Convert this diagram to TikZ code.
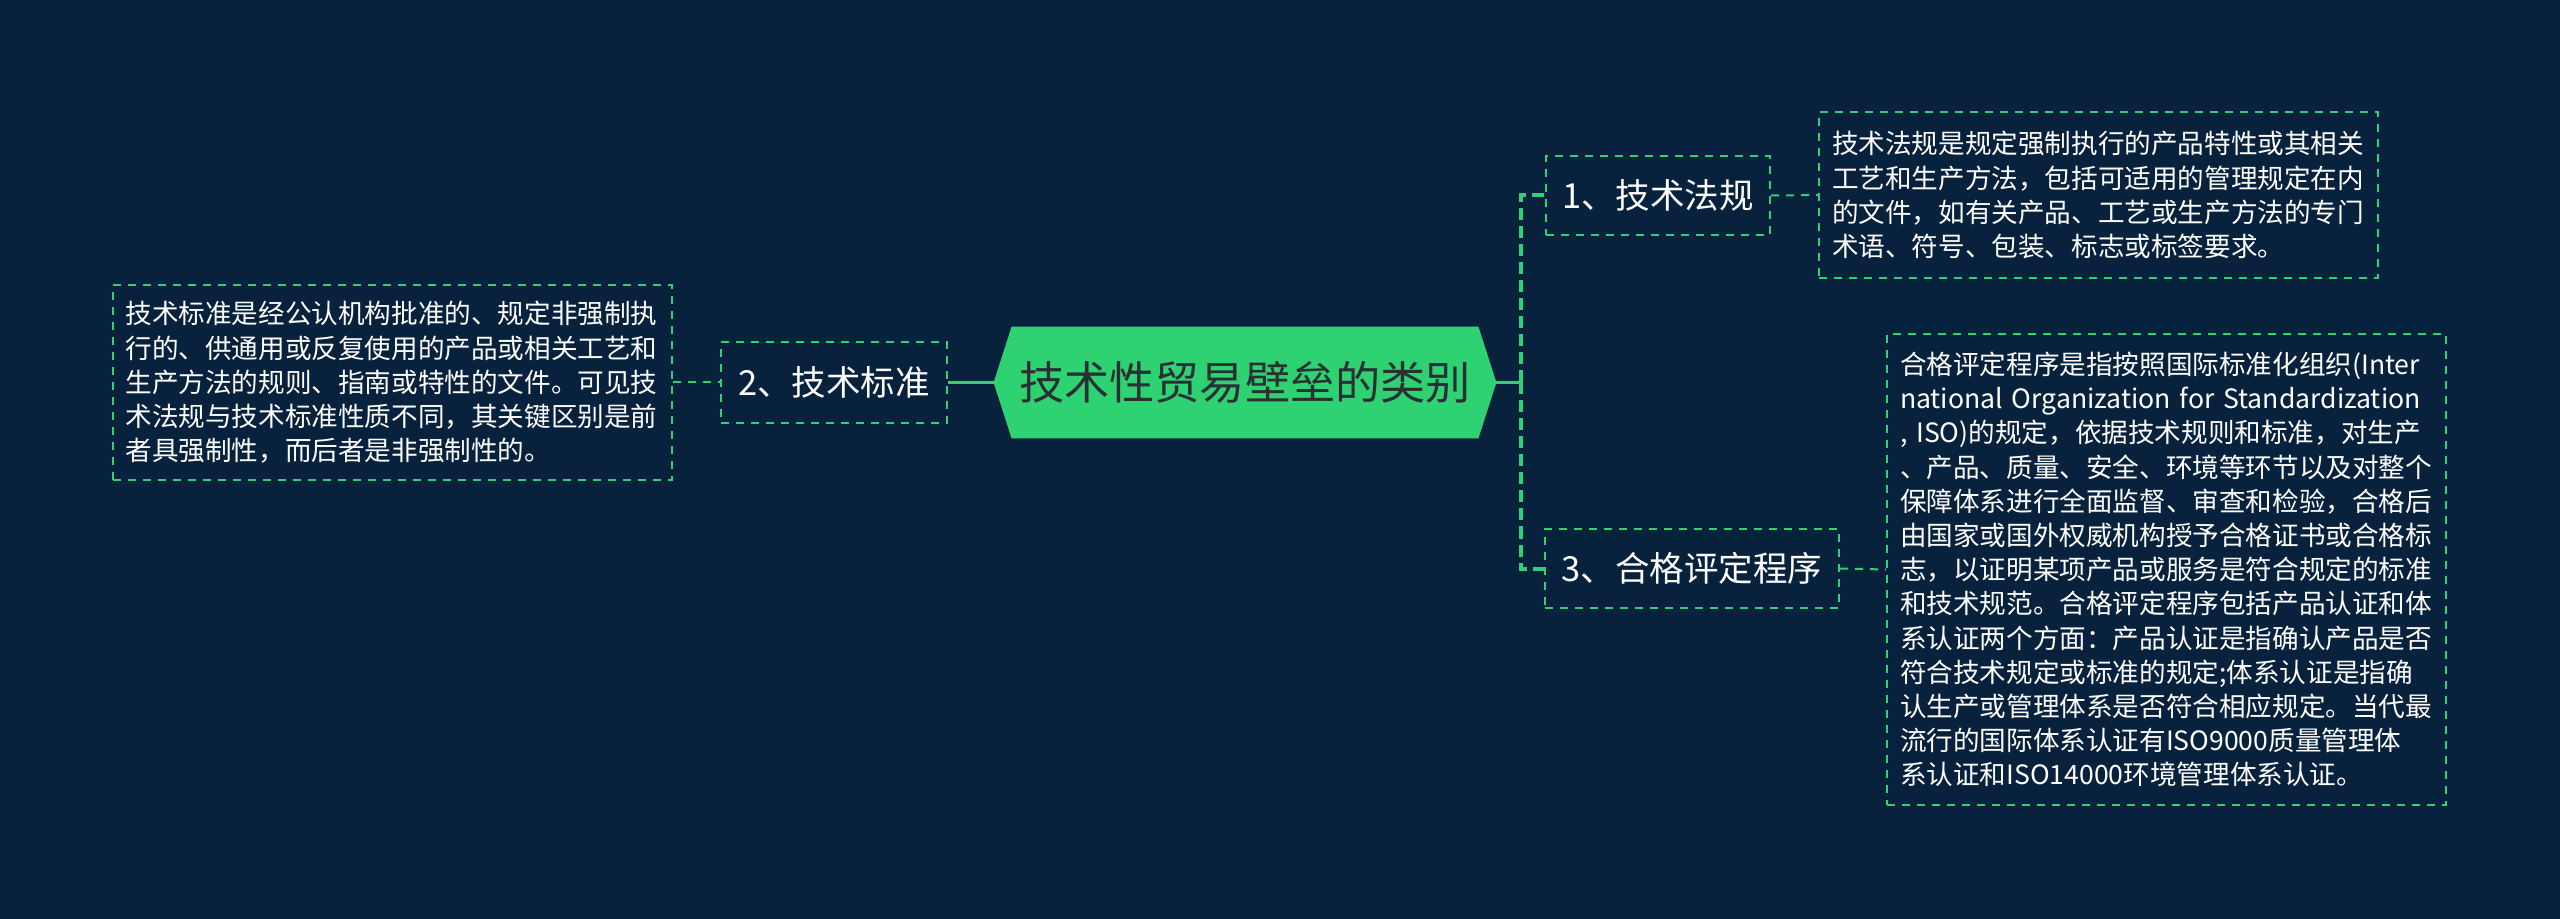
\documentclass[tikz,border=0pt]{standalone}
\usepackage{fontspec}
\setmainfont{Noto Sans CJK SC}
\usetikzlibrary{backgrounds}
\definecolor{bg}{RGB}{8,34,62}
\definecolor{grn}{RGB}{46,210,115}
\definecolor{darktxt}{RGB}{40,48,52}
\begin{document}
\begin{tikzpicture}[x=0.5pt,y=-0.5pt,
  box/.style={draw=grn, line width=1pt, dash pattern=on 4pt off 3.5pt, text=white, inner sep=0pt},
  topic/.style={box, font=\fontsize{17.25pt}{20pt}\selectfont, minimum height=39.5pt},
  desc/.style={box, font=\fontsize{13.3pt}{17.1pt}\selectfont, align=left, text width=266.5pt, inner xsep=6.5pt, inner ysep=0pt},
  link/.style={draw=grn, line width=1pt, dash pattern=on 4pt off 3.5pt},
  spine/.style={draw=grn, line width=2pt, dash pattern=on 6pt off 3pt},
  solidlink/.style={draw=grn, line width=1.5pt},
  title/.style={font=\fontsize{22.6pt}{26pt}\selectfont, text=darktxt, minimum width=233pt, minimum height=55.5pt, inner sep=0pt}]
\useasboundingbox (0,0) rectangle (2560,919);

\node[title] (c) at (1245,382.5) {技术性贸易壁垒的类别};
\coordinate (cl) at ([xshift=-9pt]c.west);
\coordinate (cr) at ([xshift=9pt]c.east);
\begin{pgfonlayer}{background}
\fill[bg] (0,0) rectangle (2560,919);
\fill[grn] (cl) -- (c.north west) -- (c.north east) -- (cr) -- (c.south east) -- (c.south west) -- cycle;
\end{pgfonlayer}

\node[topic, minimum width=112pt] (n1) at (1658,195.5) {1、技术法规};
\node[topic, minimum width=113pt, minimum height=40.5pt] (n2) at (834,382.5) {2、技术标准};
\node[topic, minimum width=147pt] (n3) at (1692,568.5) {3、合格评定程序};

\node[desc, minimum height=83pt] (t1) at (2098.5,195) {技术法规是规定强制执行的产品特性或其相关\\工艺和生产方法，包括可适用的管理规定在内\\的文件，如有关产品、工艺或生产方法的专门\\术语、符号、包装、标志或标签要求。};

\node[desc, minimum height=97.5pt] (t2) at (392,382.5) {技术标准是经公认机构批准的、规定非强制执\\行的、供通用或反复使用的产品或相关工艺和\\生产方法的规则、指南或特性的文件。可见技\\术法规与技术标准性质不同，其关键区别是前\\者具强制性，而后者是非强制性的。};

\node[desc, minimum height=235.5pt] (t3) at (2166.5,569.5) {合格评定程序是指按照国际标准化组织(Inter\\national Organization for Standardization\\, ISO)的规定，依据技术规则和标准，对生产\\、产品、质量、安全、环境等环节以及对整个\\保障体系进行全面监督、审查和检验，合格后\\由国家或国外权威机构授予合格证书或合格标\\志，以证明某项产品或服务是符合规定的标准\\和技术规范。合格评定程序包括产品认证和体\\系认证两个方面：产品认证是指确认产品是否\\符合技术规定或标准的规定;体系认证是指确\\认生产或管理体系是否符合相应规定。当代最\\流行的国际体系认证有ISO9000质量管理体\\系认证和ISO14000环境管理体系认证。};

\coordinate (sp) at (1521,382.5);
\draw[solidlink] (n2.east) -- (cl);
\draw[solidlink] (cr) -- (sp);
\draw[spine] (sp) |- (n1.west);
\draw[spine] (sp) |- (n3.west);
\draw[link] (t2.east) -- (n2.west);
\draw[link] (n1.east) -- (t1.west);
\draw[link] (n3.east) -- (t3.west);
\end{tikzpicture}
\end{document}
